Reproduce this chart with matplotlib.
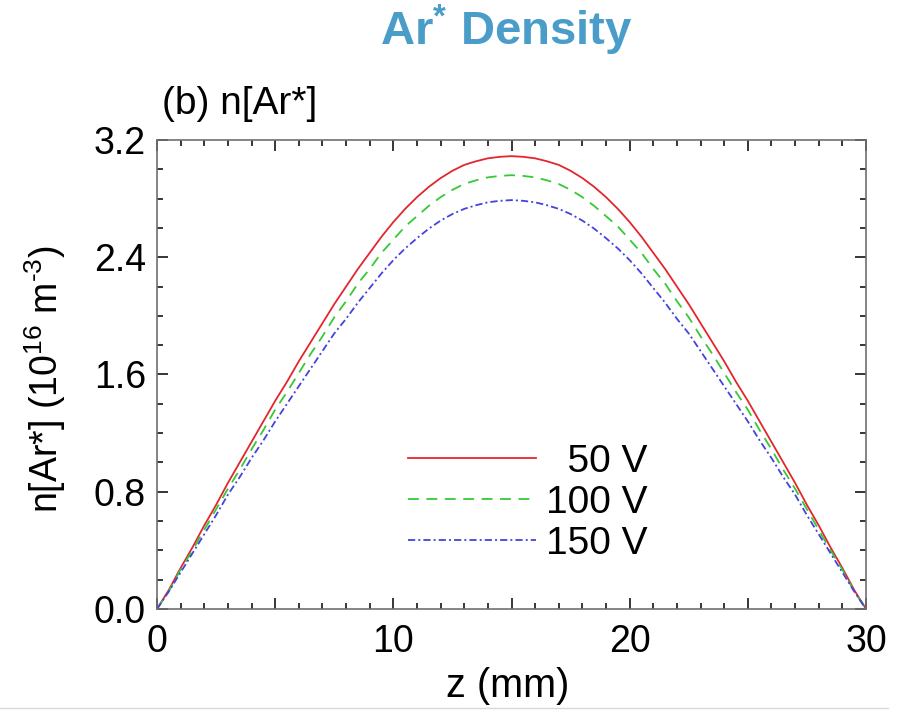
import matplotlib
matplotlib.use("Agg")
import matplotlib.pyplot as plt
from matplotlib.lines import Line2D
from matplotlib.ticker import MultipleLocator, FuncFormatter

plt.rcParams['font.family'] = ['Liberation Sans', 'DejaVu Sans']
plt.rcParams['mathtext.fontset'] = 'custom'
plt.rcParams['mathtext.rm'] = 'Liberation Sans'
plt.rcParams['mathtext.it'] = 'Liberation Sans'
plt.rcParams['mathtext.bf'] = 'Liberation Sans:bold'

# z positions (mm), every 0.5 mm
z_mm = [i * 0.5 for i in range(61)]

# n[Ar*] in 1e16 m^-3, z = 0 ... 15 mm
# (profiles are symmetric about the mid-gap, so the right half is mirrored)
half_50 = [0.00, 0.13, 0.28, 0.42, 0.57, 0.71, 0.86, 1.00, 1.14, 1.28,
           1.42, 1.55, 1.69, 1.82, 1.95, 2.08, 2.20, 2.32, 2.43, 2.54,
           2.64, 2.73, 2.81, 2.88, 2.94, 2.99, 3.03, 3.055, 3.075, 3.085,
           3.09]
half_100 = [0.00, 0.12, 0.27, 0.40, 0.54, 0.68, 0.82, 0.95, 1.09, 1.22,
            1.36, 1.48, 1.61, 1.74, 1.86, 1.99, 2.10, 2.22, 2.32, 2.43,
            2.52, 2.61, 2.68, 2.75, 2.81, 2.86, 2.90, 2.925, 2.945, 2.955,
            2.96]
half_150 = [0.00, 0.12, 0.25, 0.38, 0.51, 0.64, 0.78, 0.90, 1.03, 1.15,
            1.28, 1.40, 1.52, 1.64, 1.76, 1.88, 1.98, 2.09, 2.19, 2.29,
            2.38, 2.46, 2.53, 2.595, 2.65, 2.695, 2.73, 2.755, 2.775, 2.785,
            2.79]

n_50v = half_50 + half_50[-2::-1]
n_100v = half_100 + half_100[-2::-1]
n_150v = half_150 + half_150[-2::-1]

labels = ["  50 V", "100 V", "150 V"]
colors = ["#e3262d", "#35c935", "#4343e0"]
styles = ["-", (0, (6, 4.2)), (0, (4, 1.7, 1.1, 1.7))]

fig = plt.figure(figsize=(8.97, 7.13), dpi=100)
ax = fig.add_axes([157 / 897, 1 - 609 / 713, 709 / 897, 469 / 713])

for vals, lab, c, ls in zip([n_50v, n_100v, n_150v], labels, colors, styles):
    ax.plot(z_mm, vals, color=c, linestyle=ls, linewidth=1.3, label=lab)

ax.set_xlim(0, 30)
ax.set_ylim(0, 3.2)
ax.xaxis.set_major_locator(MultipleLocator(5))
ax.xaxis.set_minor_locator(MultipleLocator(1))
ax.xaxis.set_major_formatter(FuncFormatter(lambda v, p: f"{v:.0f}" if v % 10 == 0 else ""))
ax.yaxis.set_major_locator(MultipleLocator(0.8))
ax.yaxis.set_minor_locator(MultipleLocator(0.2))
ax.yaxis.set_major_formatter(FuncFormatter(lambda v, p: f"{v:.1f}"))

ax.tick_params(which='both', direction='in', top=True, right=True,
               labelsize=27, width=1.1, color='black')
ax.tick_params(which='major', length=8)
ax.tick_params(which='minor', length=4.5)
ax.tick_params(axis='x', pad=11)
ax.tick_params(axis='y', pad=8)
for sp in ax.spines.values():
    sp.set_color('#707070')
    sp.set_linewidth(1.2)

leg = ax.legend(loc='upper left', bbox_to_anchor=(0.354, 0.352), frameon=False,
                fontsize=28, handlelength=3.3, handletextpad=0.25,
                labelspacing=0.13, borderpad=0, borderaxespad=0)

fig.text(506 / 897, 1 - 45 / 713, r"Ar$^{\mathbf{*}}$ Density", ha='center',
         va='baseline', fontsize=34, fontweight='bold', color='#4a9dc9')
fig.text(162 / 897, 1 - 114 / 713, "(b) n[Ar*]", ha='left', va='baseline', fontsize=28)
fig.text(508 / 897, 1 - 697 / 713, "z (mm)", ha='center', va='baseline', fontsize=28.5)
fig.text(45 / 897, 1 - 379 / 713, "n[Ar*] (10$^{16}$ m$^{\u20103}$)", ha='center',
         va='center', rotation=90, fontsize=27)

fig.add_artist(Line2D([0, 888 / 897], [1 - 708 / 713, 1 - 708 / 713],
                      transform=fig.transFigure, color='#d8d8d8', linewidth=1.0))

fig.savefig("out.png", dpi=100)
